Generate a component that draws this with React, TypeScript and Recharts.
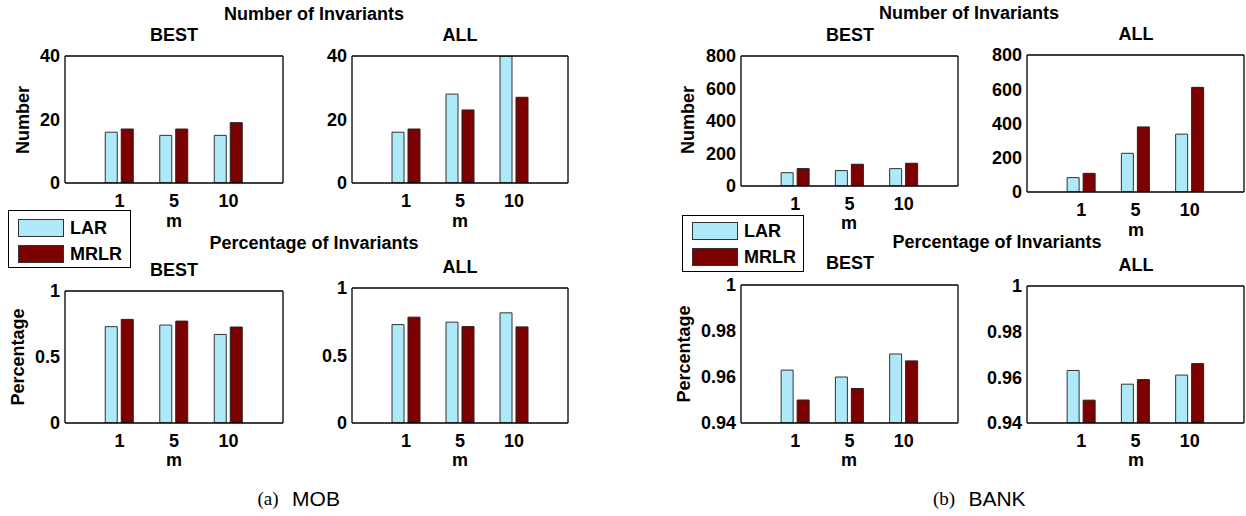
import React from "react";
import { BarChart, Bar, XAxis, YAxis } from "recharts";

// categories (m)
const mValues = ["1", "5", "10"];

// MOB - number of invariants
const mobNumBestLar = [16, 15, 15];
const mobNumBestMrlr = [17, 17, 19];
const mobNumAllLar = [16, 28, 40];
const mobNumAllMrlr = [17, 23, 27];

// MOB - percentage of invariants
const mobPctBestLar = [0.73, 0.742, 0.671];
const mobPctBestMrlr = [0.785, 0.772, 0.727];
const mobPctAllLar = [0.729, 0.747, 0.816];
const mobPctAllMrlr = [0.784, 0.714, 0.712];

// BANK - number of invariants
const bankNumBestLar = [82, 95, 107];
const bankNumBestMrlr = [107, 134, 140];
const bankNumAllLar = [84, 226, 338];
const bankNumAllMrlr = [109, 380, 611];

// BANK - percentage of invariants
const bankPctBestLar = [0.963, 0.96, 0.97];
const bankPctBestMrlr = [0.95, 0.955, 0.967];
const bankPctAllLar = [0.963, 0.957, 0.961];
const bankPctAllMrlr = [0.95, 0.959, 0.966];

// y ticks
const mobNumTicks = [0, 20, 40];
const mobPctTicks = [0, 0.5, 1];
const bankNumTicks = [0, 200, 400, 600, 800];
const bankPctTicks = [0.94, 0.96, 0.98, 1];

const LAR_COLOR = "#aee9fa";
const MRLR_COLOR = "#7d0000";
const SANS = '"Liberation Sans", Arial, Helvetica, sans-serif';
const SERIF = '"Liberation Serif", "Times New Roman", serif';

const tickStyle = { fill: "#000", fontSize: 18, fontWeight: 700, fontFamily: SANS };

type PanelProps = {
  x: number;
  y: number;
  w: number;
  h: number;
  lar: number[];
  mrlr: number[];
  domain: [number, number];
  ticks: number[];
};

const YW = 70;
const T = 10;
const R = 10;
const B = 40;

function Panel({ x, y, w, h, lar, mrlr, domain, ticks }: PanelProps) {
  const rows = mValues.map((m, i) => ({ m, lar: lar[i], mrlr: mrlr[i] }));
  const pad = { left: w / 8, right: w / 8 };
  const line = { stroke: "#000", strokeWidth: 1.3 };
  return (
    <div style={{ position: "absolute", left: x - YW, top: y - T }}>
      <BarChart
        width={YW + w + R}
        height={T + h + B}
        data={rows}
        margin={{ top: T, right: R, bottom: 0, left: 0 }}
        barSize={12}
        barGap={4}
      >
        <XAxis
          dataKey="m"
          padding={pad}
          height={B}
          tickLine={false}
          tickSize={6}
          tickMargin={5}
          interval={0}
          axisLine={line}
          tick={tickStyle}
        />
        <XAxis
          xAxisId="top"
          orientation="top"
          mirror
          dataKey="m"
          padding={pad}
          tick={false}
          tickSize={3}
          axisLine={line}
          tickLine={{ stroke: "#000" }}
        />
        <XAxis
          xAxisId="bin"
          orientation="bottom"
          mirror
          dataKey="m"
          padding={pad}
          tick={false}
          tickSize={3}
          axisLine={false}
          tickLine={{ stroke: "#000" }}
        />
        <YAxis
          type="number"
          domain={domain}
          ticks={ticks}
          allowDataOverflow
          interval={0}
          width={YW}
          tickLine={false}
          tickSize={3}
          tickMargin={2}
          axisLine={line}
          tick={tickStyle}
        />
        <YAxis
          yAxisId="right"
          orientation="right"
          mirror
          type="number"
          domain={domain}
          ticks={ticks}
          allowDataOverflow
          interval={0}
          tick={false}
          tickSize={3}
          axisLine={line}
          tickLine={{ stroke: "#000" }}
        />
        <YAxis
          yAxisId="lin"
          orientation="left"
          mirror
          type="number"
          domain={domain}
          ticks={ticks}
          allowDataOverflow
          interval={0}
          tick={false}
          tickSize={3}
          axisLine={false}
          tickLine={{ stroke: "#000" }}
        />
        <Bar dataKey="lar" fill={LAR_COLOR} stroke="#333" strokeWidth={1} isAnimationActive={false} />
        <Bar dataKey="mrlr" fill={MRLR_COLOR} stroke="#222" strokeWidth={1} isAnimationActive={false} />
      </BarChart>
    </div>
  );
}

function Txt({
  x,
  y,
  children,
  size = 18,
  weight = 700,
  rotate = false,
  family = SANS,
}: {
  x: number;
  y: number;
  children: React.ReactNode;
  size?: number;
  weight?: number;
  rotate?: boolean;
  family?: string;
}) {
  return (
    <div
      style={{
        position: "absolute",
        left: x,
        top: y,
        transform: `translate(-50%, -50%)${rotate ? " rotate(-90deg)" : ""}`,
        whiteSpace: "nowrap",
        fontSize: size,
        fontWeight: weight,
        fontFamily: family,
        lineHeight: 1,
        color: "#000",
      }}
    >
      {children}
    </div>
  );
}

function LegendBox({
  left,
  top,
  width,
  height,
  larTop,
  mrlrTop,
}: {
  left: number;
  top: number;
  width: number;
  height: number;
  larTop: number;
  mrlrTop: number;
}) {
  const sw = (t: number, c: string): React.CSSProperties => ({
    position: "absolute",
    left: 9,
    top: t,
    width: 46,
    height: 18,
    background: c,
    border: "1px solid #333",
    boxSizing: "border-box",
  });
  const label = (t: number): React.CSSProperties => ({
    position: "absolute",
    left: 61,
    top: t,
    fontSize: 18,
    fontWeight: 700,
    fontFamily: SANS,
    lineHeight: "18px",
  });
  return (
    <div
      style={{
        position: "absolute",
        left,
        top,
        width,
        height,
        border: "1.3px solid #000",
        background: "#fff",
        boxSizing: "border-box",
      }}
    >
      <div style={sw(larTop, LAR_COLOR)} />
      <div style={label(larTop)}>LAR</div>
      <div style={sw(mrlrTop, MRLR_COLOR)} />
      <div style={label(mrlrTop)}>MRLR</div>
    </div>
  );
}

export default function App() {
  return (
    <div
      style={{
        position: "absolute",
        left: 0,
        top: 0,
        width: 1246,
        height: 516,
        background: "#fff",
        overflow: "hidden",
      }}
    >
      {/* (a) MOB */}
      <Panel x={65} y={56} w={218} h={127} lar={mobNumBestLar} mrlr={mobNumBestMrlr} domain={[0, 40]} ticks={mobNumTicks} />
      <Panel x={352} y={56} w={216} h={127} lar={mobNumAllLar} mrlr={mobNumAllMrlr} domain={[0, 40]} ticks={mobNumTicks} />
      <Panel x={65} y={291} w={218} h={132} lar={mobPctBestLar} mrlr={mobPctBestMrlr} domain={[0, 1]} ticks={mobPctTicks} />
      <Panel x={352} y={288} w={216} h={135} lar={mobPctAllLar} mrlr={mobPctAllMrlr} domain={[0, 1]} ticks={mobPctTicks} />

      {/* (b) BANK */}
      <Panel x={741} y={56} w={217} h={130} lar={bankNumBestLar} mrlr={bankNumBestMrlr} domain={[0, 800]} ticks={bankNumTicks} />
      <Panel x={1027} y={55} w={217} h={137} lar={bankNumAllLar} mrlr={bankNumAllMrlr} domain={[0, 800]} ticks={bankNumTicks} />
      <Panel x={741} y={285} w={217} h={138} lar={bankPctBestLar} mrlr={bankPctBestMrlr} domain={[0.94, 1]} ticks={bankPctTicks} />
      <Panel x={1027} y={286} w={217} h={137} lar={bankPctAllLar} mrlr={bankPctAllMrlr} domain={[0.94, 1]} ticks={bankPctTicks} />

      {/* MOB titles */}
      <Txt x={314} y={14}>Number of Invariants</Txt>
      <Txt x={174} y={35}>BEST</Txt>
      <Txt x={460} y={35}>ALL</Txt>
      <Txt x={314} y={243}>Percentage of Invariants</Txt>
      <Txt x={174} y={270}>BEST</Txt>
      <Txt x={460} y={267}>ALL</Txt>
      <Txt x={23} y={120} rotate>Number</Txt>
      <Txt x={18} y={357} rotate>Percentage</Txt>
      <Txt x={174} y={221}>m</Txt>
      <Txt x={460} y={221}>m</Txt>
      <Txt x={174} y={460}>m</Txt>
      <Txt x={460} y={460}>m</Txt>

      {/* BANK titles */}
      <Txt x={969} y={13}>Number of Invariants</Txt>
      <Txt x={850} y={35}>BEST</Txt>
      <Txt x={1136} y={34}>ALL</Txt>
      <Txt x={997} y={242}>Percentage of Invariants</Txt>
      <Txt x={850} y={263}>BEST</Txt>
      <Txt x={1136} y={265}>ALL</Txt>
      <Txt x={688} y={120} rotate>Number</Txt>
      <Txt x={684} y={354} rotate>Percentage</Txt>
      <Txt x={849} y={223}>m</Txt>
      <Txt x={1136} y={230}>m</Txt>
      <Txt x={849} y={460}>m</Txt>
      <Txt x={1136} y={460}>m</Txt>

      <LegendBox left={8} top={210} width={123} height={58} larTop={8} mrlrTop={34} />
      <LegendBox left={682} top={215} width={122} height={57} larTop={6} mrlrTop={32} />

      {/* captions */}
      <Txt x={268} y={498} size={19} weight={400} family={SERIF}>(a)</Txt>
      <Txt x={316} y={498} size={21} weight={400}>MOB</Txt>
      <Txt x={944} y={498} size={19} weight={400} family={SERIF}>(b)</Txt>
      <Txt x={997} y={498} size={21} weight={400}>BANK</Txt>
    </div>
  );
}
